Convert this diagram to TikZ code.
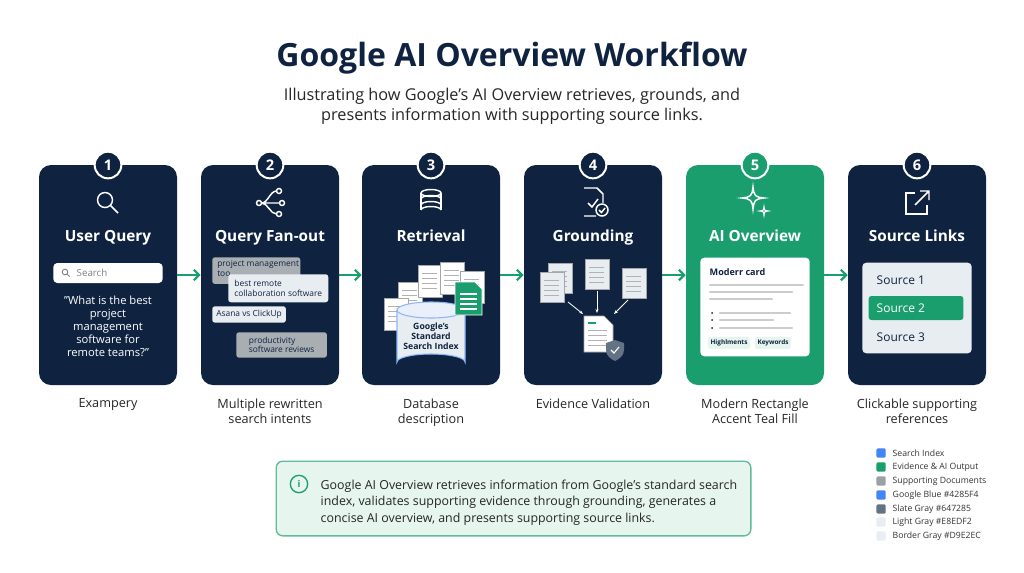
\documentclass[tikz,border=0pt]{standalone}
\usepackage{fontspec}
\setmainfont{Open Sans}
\usetikzlibrary{arrows.meta,shapes.geometric}
\definecolor{navy}{HTML}{0F2341}
\definecolor{teal}{HTML}{1A9E6E}
\definecolor{lgreen}{HTML}{E6F5EE}
\definecolor{gblue}{HTML}{4285F4}
\definecolor{slate}{HTML}{647285}
\definecolor{lgray}{HTML}{E8EDF2}
\definecolor{bgray}{HTML}{D9E2EC}
\definecolor{dgray}{HTML}{9AA0A6}
\tikzset{
 card/.style={draw=none,fill=navy,rounded corners=9pt,minimum width=103.5pt,minimum height=165pt},
 num/.style={circle,draw=white,line width=1.5pt,fill=navy,minimum size=20pt,inner sep=0pt,text=white,font=\bfseries\fontsize{11}{11}\selectfont},
 ttl/.style={text=white,font=\bfseries\fontsize{11.5}{12}\selectfont,anchor=base},
 capt/.style={text=black!85,font=\fontsize{9.5}{11.5}\selectfont,align=center,anchor=north},
 flow/.style={draw=teal,line width=1.6pt,-{Straight Barb[length=4pt,width=8pt]}},
 ico/.style={draw=white,line width=1.1pt},
 chipL/.style={fill=lgray,rounded corners=2pt,text=navy,font=\fontsize{6.3}{7.3}\selectfont,align=left,anchor=north west,inner sep=3pt},
 chipD/.style={fill=dgray!85,rounded corners=2pt,text=navy,font=\fontsize{6.3}{7.3}\selectfont,align=left,anchor=north west,inner sep=3pt},
 doc/.style={draw=gray!70,fill=white,line width=0.4pt},
 leg/.style={anchor=west,font=\fontsize{6.5}{7}\selectfont,text=black!80},
}
\begin{document}
\begin{tikzpicture}[x=0.75pt,y=-0.75pt]
\useasboundingbox[fill=white] (0,0) rectangle (1024,572);
\node[font=\bfseries\fontsize{24}{28}\selectfont,text=navy] (title) at (512,58) {Google AI Overview Workflow};
\node[font=\fontsize{12.2}{15}\selectfont,text=black!85,align=center] (sub) at (512,106) {Illustrating how Google’s AI Overview retrieves, grounds, and\\presents information with supporting source links.};
% cards
\foreach \i/\x/\c in {1/108/navy,2/270/navy,3/431/navy,4/593/navy,5/755/teal,6/917/navy}{
 \node[card,fill=\c] (c\i) at (\x,275) {};
 \node[num,fill=\c] (n\i) at (\x,165) {\i};
}
\foreach \a/\b in {1/2,2/3,3/4,4/5,5/6}{ \draw[flow] (c\a.east) -- (c\b.west); }
% titles
\node[ttl] (t1) at (108,241) {User Query};
\node[ttl] (t2) at (270,241) {Query Fan-out};
\node[ttl] (t3) at (431,241) {Retrieval};
\node[ttl] (t4) at (593,241) {Grounding};
\node[ttl] (t5) at (755,241) {AI Overview};
\node[ttl] (t6) at (917,241) {Source Links};
% captions
\node[capt] (k1) at (108,394) {Exampery};
\node[capt] (k2) at (270,394) {Multiple rewritten\\search intents};
\node[capt] (k3) at (431,394) {Database\\description};
\node[capt] (k4) at (593,394) {Evidence Validation};
\node[capt] (k5) at (755,394) {Modern Rectangle\\Accent Teal Fill};
\node[capt] (k6) at (917,394) {Clickable supporting\\references};
% icon 1 magnifier
\draw[ico] (105,200) circle (7.5);
\draw[ico] (110.5,205.5) -- (118,213);
% icon 2 fanout
\draw[ico] (259,203) circle (2.5) (279,191) circle (2.5) (282,203) circle (2.5) (279,214) circle (2.5);
\draw[ico] (261.5,203) -- (279.5,203) (261.5,203) .. controls (268,203) and (270,191) .. (276.5,191) (261.5,203) .. controls (268,203) and (270,214) .. (276.5,214);
% icon 3 database
\draw[ico] (431,193) ellipse (10 and 3.5);
\draw[ico] (421,193) -- (421,210) (441,193) -- (441,210);
\draw[ico] (421,210) arc (180:360:10 and 3.5);
\draw[ico] (421,199) arc (180:360:10 and 3.5) (421,205) arc (180:360:10 and 3.5);
% icon 4 doc check
\draw[ico] (584,188) -- (597,188) -- (603,194) -- (603,203) (596,216) -- (584,216) -- cycle;
\draw[ico] (588,203) -- (592,207) -- (598,199);
\draw[ico,fill=navy] (602,210) circle (6);
\draw[ico] (599,210) -- (601.5,212.5) -- (605,208);
% icon 5 sparkle
\draw[ico] (753,187) .. controls (754,196) and (755,197) .. (764,198) .. controls (755,199) and (754,200) .. (753,209) .. controls (752,200) and (751,199) .. (742,198) .. controls (751,197) and (752,196) .. cycle;
\draw[ico,line width=0.9pt] (764,207) .. controls (764.5,210.5) and (764.5,210.5) .. (768,211) .. controls (764.5,211.5) and (764.5,211.5) .. (764,215) .. controls (763.5,211.5) and (763.5,211.5) .. (760,211) .. controls (763.5,210.5) and (763.5,210.5) .. cycle;
% icon 6 external
\draw[ico] (915,193) -- (906,193) -- (906,214) -- (927,214) -- (927,205);
\draw[ico] (915,205) -- (929,191) (920,191) -- (929,191) -- (929,200);
% card1 contents
\node[fill=white,rounded corners=3pt,minimum width=82pt,minimum height=15pt,inner sep=0pt] (sb) at (108,273) {};
\draw[gray,line width=0.7pt] (65,272) circle (2.8) (67,274) -- (69.5,276.5);
\node[anchor=west,text=gray,font=\fontsize{7.3}{8}\selectfont] (st) at (72,273) {Search};
\node[text=white,align=center,font=\fontsize{8.4}{9.8}\selectfont] (q) at (108,326) {"What is the best\\project\\management\\software for\\remote teams?"};
% card2 chips
\node[chipD,minimum width=66pt,minimum height=20pt,anchor=north west,align=left,text depth=0pt] (ch1) at (212,257) {};
\node[anchor=north west,font=\fontsize{6.3}{7.3}\selectfont,text=navy,inner sep=0pt,align=left] (ch1t) at (217,260) {project management\\too};
\node[chipL,minimum width=75pt,minimum height=21pt] (ch2) at (228,274) {best remote\\collaboration software};
\node[chipL] (ch3) at (212,306) {Asana vs ClickUp};
\node[chipD,minimum width=68pt,minimum height=19pt] (ch4) at (236,332) {productivity\\software reviews};
% card3 docs & cylinder
\foreach \dx/\dy in {398/282,418/265,440/262,460/271,384/298}{
 \draw[doc] (\dx,\dy) rectangle ++(24,32);
 \foreach \l in {8,13,18,23} \draw[gray!60,line width=0.6pt] (\dx+4,\dy+\l) -- (\dx+19,\dy+\l);
}
\draw[fill=lgray,draw=gblue!60,line width=0.8pt] (397,310) -- (397,362) arc (180:360:34 and 8) -- (465,310);
\draw[fill=lgray!70!gblue!30,draw=gblue!60,line width=0.8pt] (431,310) ellipse (34 and 8);
\node[font=\bfseries\fontsize{6.5}{7.5}\selectfont,text=navy,align=center] (cy) at (431,336) {Google’s\\Standard\\Search Index};
\draw[fill=teal,draw=white,line width=0.6pt] (455,282) -- (475,282) -- (482,289) -- (482,315) -- (455,315) -- cycle;
\foreach \l in {294,299,304,309} \draw[white,line width=0.8pt] (460,\l) -- (477,\l);
% card4 docs
\foreach \dx/\dy in {548/263,585/259,622/268,540/272}{
 \draw[doc,fill=lgray] (\dx,\dy) rectangle ++(24,30);
 \foreach \l in {8,13,18,23} \draw[gray!60,line width=0.6pt] (\dx+4,\dy+\l) -- (\dx+19,\dy+\l);
}
\draw[white,-{Stealth[length=3pt]},line width=0.6pt] (568,302) -- (583,314);
\draw[white,-{Stealth[length=3pt]},line width=0.6pt] (597,291) -- (597,313);
\draw[white,-{Stealth[length=3pt]},line width=0.6pt] (628,300) -- (614,314);
\draw[doc] (584,316) -- (604,316) -- (613,325) -- (613,352) -- (584,352) -- cycle;
\draw[teal,line width=1pt] (588,323) -- (596,323);
\foreach \l in {330,335,340,345} \draw[gray!60,line width=0.6pt] (588,\l) -- (607,\l);
\draw[fill=slate,draw=none] (615,340) -- (624,343) -- (624,350) .. controls (624,356) and (619,359) .. (615,361) .. controls (611,359) and (606,356) .. (606,350) -- (606,343) -- cycle;
\draw[white,line width=0.8pt] (611,350) -- (614,353) -- (619,347);
% card5 inner card
\node[fill=white,rounded corners=3pt,minimum width=82pt,minimum height=74pt,inner sep=0pt] (ic) at (755,307) {};
\node[anchor=west,font=\bfseries\fontsize{6.8}{7}\selectfont,text=navy] (mc) at (705,272) {Moderr card};
\foreach \y/\w in {285/93,292/82,299/62}{ \draw[gray!40,line width=1.8pt,line cap=round] (710,\y) -- ++(\w,0); }
\foreach \y/\w in {313/70,320/53,328/72}{ \fill[navy] (712,\y) circle (1); \draw[gray!40,line width=1.8pt,line cap=round] (720,\y) -- ++(\w,0); }
\node[fill=lgreen,rounded corners=2pt,font=\bfseries\fontsize{4.8}{5}\selectfont,text=navy,inner sep=2pt] (h1) at (729,343) {Highlments};
\node[fill=lgreen,rounded corners=2pt,font=\bfseries\fontsize{4.8}{5}\selectfont,text=navy,inner sep=2pt] (h2) at (773,343) {Keywords};
% card6 panel
\node[fill=lgray,rounded corners=3pt,minimum width=82pt,minimum height=68pt,inner sep=0pt] (pn) at (917,308) {};
\node[fill=teal,rounded corners=2pt,minimum width=71pt,minimum height=18pt,inner sep=0pt] (s2b) at (916,308) {};
\node[anchor=west,font=\fontsize{9}{10}\selectfont,text=navy] (s1) at (872,280) {Source 1};
\node[anchor=west,font=\fontsize{9}{10}\selectfont,text=white] (s2) at (872,308) {Source 2};
\node[anchor=west,font=\fontsize{9}{10}\selectfont,text=navy] (s3) at (872,337) {Source 3};
% info box
\node[fill=lgreen,draw=teal!70,line width=1pt,rounded corners=5pt,minimum width=356pt,minimum height=56pt,inner sep=0pt] (ib) at (513.5,498.5) {};
\node[circle,draw=teal,line width=1pt,minimum size=13pt,inner sep=0pt,text=teal,font=\bfseries\fontsize{7}{7}\selectfont] (ii) at (299,484) {i};
\node[anchor=north west,align=left,font=\fontsize{9.3}{12.3}\selectfont,text=black!85] (it) at (316,475) {Google AI Overview retrieves information from Google’s standard search\\index, validates supporting evidence through grounding, generates a\\concise AI overview, and presents supporting source links.};
% legend
\foreach \y/\c/\t in {453/gblue/Search Index,467/teal/Evidence \& AI Output,481/dgray/Supporting Documents,495/gblue/Google Blue \#4285F4,509/slate/Slate Gray \#647285,522/lgray/Light Gray \#E8EDF2,536/bgray!60/Border Gray \#D9E2EC}{
 \node[fill=\c,rounded corners=1pt,minimum size=7pt,inner sep=0pt] at (881,\y) {};
 \node[leg] at (888,\y) {\t};
}
\end{tikzpicture}
\end{document}
